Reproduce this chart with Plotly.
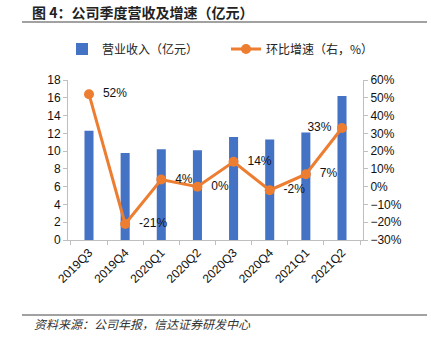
import plotly.graph_objects as go

quarters = ["2019Q3", "2019Q4", "2020Q1", "2020Q2", "2020Q3", "2020Q4", "2021Q1", "2021Q2"]
revenue = [12.3, 9.8, 10.2, 10.1, 11.6, 11.3, 12.1, 16.2]
qoq_growth = [52, -21, 4, 0, 14, -2, 7, 33]
growth_labels = ["52%", "-21%", "4%", "0%", "14%", "-2%", "7%", "33%"]
label_pos = ["middle right"] * 7 + ["middle left"]

FONT = "Liberation Sans, Arial, Noto Sans CJK SC, sans-serif"
CJK = "Noto Sans CJK SC, sans-serif"

W, H = 431, 340
PL, PR, PT, PB = 68, 363, 80, 240   # plot area in pixels


def fx(x):
    return x / W


def fy(y):
    return 1 - y / H


fig = go.Figure()
fig.add_trace(go.Bar(
    x=quarters, y=revenue, name="营业收入（亿元）",
    marker=dict(color="#4472C4", line=dict(width=0)), width=0.25, yaxis="y",
    legend="legend",
))
fig.add_trace(go.Scatter(
    x=quarters, y=qoq_growth, name="环比增速（右，%）", yaxis="y2",
    mode="lines+markers+text",
    line=dict(color="#ED7D31", width=3),
    marker=dict(color="#ED7D31", size=10),
    text=["  " + t for t in growth_labels[:7]] + [growth_labels[7] + " "],
    textposition=label_pos,
    textfont=dict(family=FONT, size=12, color="#111111"),
    cliponaxis=False,
    legend="legend2",
))

legend_common = dict(orientation="h", xref="container", yref="container",
                     xanchor="left", yanchor="middle", y=fy(49),
                     font=dict(family=CJK, size=12, color="#222222"),
                     itemwidth=30, bgcolor="rgba(0,0,0,0)")

fig.update_layout(
    width=W, height=H,
    margin=dict(l=0, r=0, t=0, b=0, autoexpand=False),
    paper_bgcolor="white", plot_bgcolor="white",
    font=dict(family=FONT, size=12, color="#111111"),
    title=dict(text="<b>图 4：公司季度营收及增速（亿元）</b>",
               x=fx(32), xanchor="left", y=fy(13), yanchor="middle",
               font=dict(family=CJK, size=14, color="#222222")),
    showlegend=True,
    legend=dict(x=fx(62), **legend_common),
    legend2=dict(x=fx(226), **legend_common),
    bargap=0.75,
    xaxis=dict(
        domain=[fx(PL), fx(PR)],
        type="category", tickangle=-45, showgrid=False,
        showline=True, linecolor="#BFBFBF", linewidth=1,
        ticks="outside", tickson="boundaries", ticklen=4, tickcolor="#BFBFBF",
        tickfont=dict(family=FONT, size=12, color="#111111"),
    ),
    yaxis=dict(
        domain=[fy(PB), fy(PT)],
        range=[0, 18], dtick=2, showgrid=False, zeroline=False,
        showline=True, linecolor="#BFBFBF", linewidth=1,
        ticks="outside", ticklen=4, tickcolor="#BFBFBF",
        tickfont=dict(family=FONT, size=12, color="#111111"),
    ),
    yaxis2=dict(
        range=[-30, 60], dtick=10, overlaying="y", side="right",
        showgrid=False, zeroline=False, ticksuffix="%",
        showline=True, linecolor="#BFBFBF", linewidth=1,
        ticks="outside", ticklen=4, tickcolor="#BFBFBF",
        tickfont=dict(family=FONT, size=12, color="#111111"),
    ),
    shapes=[
        dict(type="line", xref="paper", yref="paper", layer="above",
             x0=fx(22), x1=fx(427), y0=fy(22), y1=fy(22),
             line=dict(color="#444444", width=1)),
        dict(type="line", xref="paper", yref="paper", layer="above",
             x0=fx(22), x1=fx(427), y0=fy(315), y1=fy(315),
             line=dict(color="#444444", width=1)),
    ],
    annotations=[
        dict(text="<i>资料来源：公司年报，信达证券研发中心</i>", xref="paper", yref="paper",
             x=fx(32), y=fy(323), xanchor="left", yanchor="middle", showarrow=False,
             font=dict(family=CJK, size=12, color="#333333")),
    ],
)

fig.write_html("out.html")
